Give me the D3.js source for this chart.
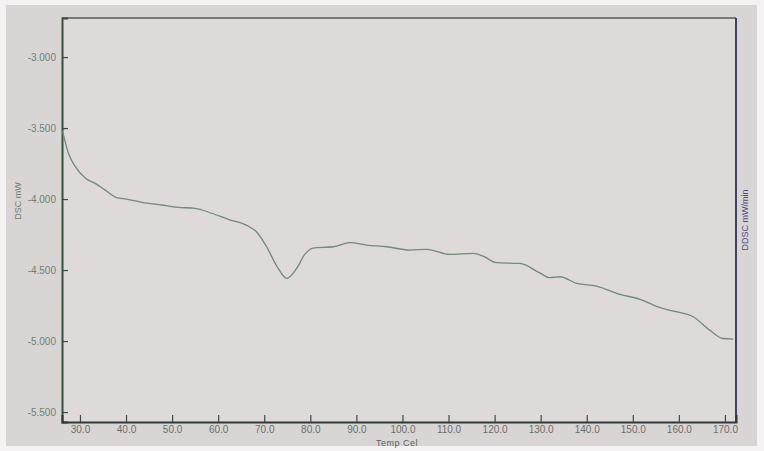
<!DOCTYPE html>
<html>
<head>
<meta charset="utf-8">
<script src="https://cdn.jsdelivr.net/npm/d3@7"></script>
<style>
  body { margin: 0; background: #f4f2f2; }
  svg { display: block; font-family: "Liberation Sans", Arial, sans-serif; }
</style>
</head>
<body>
<svg id="chart" width="764" height="451"></svg>
<script>
// DSC curve: temperature (Cel) and heat flow (mW)
const temps = [26.2, 27.5, 29.0, 31.2, 33.3, 35.5, 38.0, 40.1, 43.4, 47.7, 51.3, 55.0, 58.6, 62.2, 66.5, 68.3,
  70.5, 72.7, 74.9, 77.0, 78.8, 80.6, 85.0, 88.6, 92.2, 96.6, 101.6, 105.3, 110.3, 115.4, 117.5, 120.4,
  125.5, 129.8, 132.0, 134.2, 137.8, 142.1, 147.2, 151.6, 155.9, 158.8, 163.1, 166.7, 169.6, 171.8];
const dsc = [-3.52, -3.678, -3.772, -3.854, -3.89, -3.937, -3.99, -4.0, -4.023, -4.042, -4.058, -4.065, -4.10, -4.143, -4.19, -4.23,
  -4.335, -4.47, -4.558, -4.49, -4.39, -4.345, -4.336, -4.307, -4.324, -4.336, -4.359, -4.354, -4.39, -4.382, -4.402, -4.448,
  -4.453, -4.52, -4.554, -4.547, -4.594, -4.613, -4.671, -4.706, -4.765, -4.789, -4.829, -4.923, -4.982, -4.986];
const xTicks = [30, 40, 50, 60, 70, 80, 90, 100, 110, 120, 130, 140, 150, 160, 170];
const yTicks = [-3.0, -3.5, -4.0, -4.5, -5.0, -5.5];

const svg = d3.select("#chart");
const plotL = 62, plotR = 736, plotT = 18, plotB = 422;

// screen background
svg.append("rect").attr("x", 6).attr("y", 5).attr("width", 751).attr("height", 441).attr("fill", "#d9d5d4");
svg.append("rect").attr("x", plotL).attr("y", plotT).attr("width", plotR - plotL).attr("height", plotB - plotT).attr("fill", "#dedad9");

const x = d3.scaleLinear().domain([26.1, 172.4]).range([plotL, plotR]);
const y = d3.scaleLinear().domain([-2.725, -5.57]).range([plotT, plotB]);

// frame
svg.append("line").attr("x1", plotL).attr("x2", plotR).attr("y1", plotT).attr("y2", plotT).attr("stroke", "#55585a").attr("stroke-width", 1.5);
svg.append("line").attr("x1", plotR).attr("x2", plotR).attr("y1", plotT).attr("y2", plotB).attr("stroke", "#2f2e5a").attr("stroke-width", 1.8);

const yAxis = svg.append("g").attr("transform", `translate(${plotL},0)`)
  .call(d3.axisRight(y).tickValues(yTicks).tickSize(6).tickFormat(d3.format(".3f")));
yAxis.select(".domain").attr("stroke", "#33503d").attr("stroke-width", 2);
yAxis.selectAll(".tick line").attr("stroke", "#33503d").attr("stroke-width", 1.2);
yAxis.selectAll(".tick text").attr("x", -6).attr("text-anchor", "end")
  .attr("fill", "#6d8270").attr("font-size", 10).text(d => d3.format(".3f")(d).replace("−", "-"));

const xAxis = svg.append("g").attr("transform", `translate(0,${plotB})`)
  .call(d3.axisTop(x).tickValues(xTicks).tickSize(7).tickFormat(d3.format(".1f")));
xAxis.select(".domain").attr("stroke", "#2e3a33").attr("stroke-width", 2);
xAxis.selectAll(".tick line").attr("stroke", "#3d4a42").attr("stroke-width", 1.2);
xAxis.selectAll(".tick text").attr("y", 4).attr("dy", "0.71em")
  .attr("fill", "#6a6f6c").attr("font-size", 10);

// curve
const line = d3.line().x(d => x(d[0])).y(d => y(d[1])).curve(d3.curveMonotoneX);
svg.append("path").datum(d3.zip(temps, dsc))
  .attr("d", line).attr("fill", "none").attr("stroke", "#6e8c76").attr("stroke-width", 1.3);

// axis titles
svg.append("text").attr("transform", "translate(21,201) rotate(-90)").attr("text-anchor", "middle")
  .attr("font-size", 9).attr("fill", "#6d8270").text("DSC mW");
svg.append("text").attr("transform", "translate(748,220) rotate(-90)").attr("text-anchor", "middle")
  .attr("font-size", 9).attr("fill", "#4c4a8a").text("DDSC mW/min");
svg.append("text").attr("x", 397).attr("y", 446).attr("text-anchor", "middle")
  .attr("font-size", 9).attr("fill", "#5c615e").attr("letter-spacing", 0.5).text("Temp Cel");
</script>
</body>
</html>
